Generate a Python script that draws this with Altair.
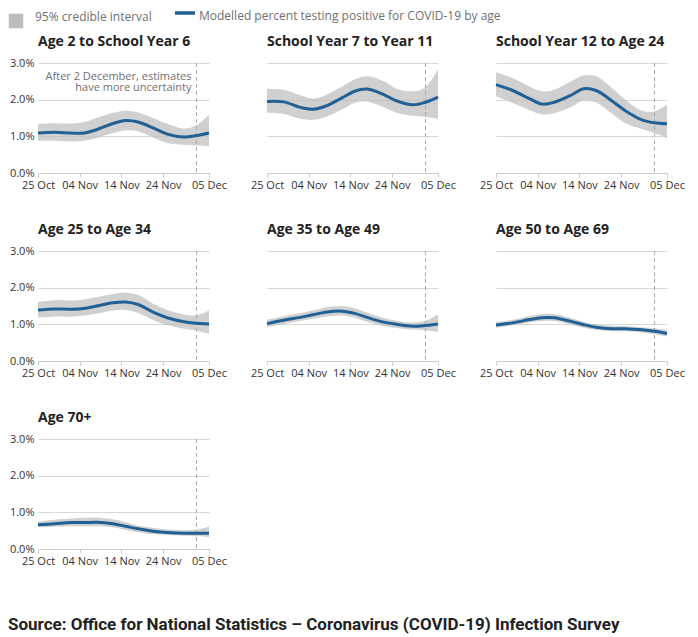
import altair as alt
import pandas as pd

# ---- data ----
dates = ["2020-10-25", "2020-10-29", "2020-11-02", "2020-11-05", "2020-11-08",
         "2020-11-12", "2020-11-15", "2020-11-18", "2020-11-22", "2020-11-25",
         "2020-11-29", "2020-12-02", "2020-12-05"]

panel_titles = ["Age 2 to School Year 6", "School Year 7 to Year 11", "School Year 12 to Age 24",
                "Age 25 to Age 34", "Age 35 to Age 49", "Age 50 to Age 69", "Age 70+"]

mid_age2_y6 = [1.09, 1.11, 1.09, 1.09, 1.18, 1.35, 1.43, 1.39, 1.21, 1.06, 0.98, 1.02, 1.09]
hi_age2_y6 = [1.34, 1.36, 1.35, 1.39, 1.50, 1.64, 1.70, 1.65, 1.48, 1.34, 1.21, 1.30, 1.59]
lo_age2_y6 = [0.88, 0.88, 0.86, 0.88, 0.95, 1.09, 1.16, 1.14, 0.95, 0.82, 0.77, 0.75, 0.73]

mid_y7_y11 = [1.95, 1.94, 1.79, 1.74, 1.82, 2.05, 2.23, 2.29, 2.14, 1.97, 1.86, 1.93, 2.07]
hi_y7_y11 = [2.30, 2.27, 2.12, 2.03, 2.12, 2.36, 2.55, 2.64, 2.50, 2.30, 2.23, 2.34, 2.82]
lo_y7_y11 = [1.64, 1.61, 1.48, 1.45, 1.53, 1.73, 1.91, 1.95, 1.79, 1.64, 1.56, 1.53, 1.48]

mid_y12_24 = [2.41, 2.25, 2.03, 1.88, 1.93, 2.12, 2.30, 2.25, 1.95, 1.70, 1.45, 1.37, 1.34]
hi_y12_24 = [2.75, 2.59, 2.36, 2.23, 2.27, 2.50, 2.66, 2.64, 2.30, 2.00, 1.70, 1.68, 1.86]
lo_y12_24 = [2.09, 1.91, 1.72, 1.60, 1.63, 1.80, 1.98, 1.92, 1.60, 1.36, 1.20, 1.09, 0.95]

mid_25_34 = [1.39, 1.42, 1.41, 1.43, 1.50, 1.59, 1.61, 1.54, 1.31, 1.18, 1.07, 1.03, 1.01]
hi_25_34 = [1.61, 1.66, 1.65, 1.68, 1.74, 1.83, 1.86, 1.80, 1.54, 1.39, 1.27, 1.25, 1.38]
lo_25_34 = [1.19, 1.21, 1.21, 1.24, 1.29, 1.38, 1.39, 1.31, 1.10, 0.98, 0.88, 0.83, 0.74]

mid_35_49 = [1.02, 1.11, 1.19, 1.26, 1.33, 1.36, 1.30, 1.19, 1.06, 1.00, 0.95, 0.97, 1.01]
hi_35_49 = [1.12, 1.22, 1.31, 1.38, 1.46, 1.50, 1.44, 1.32, 1.17, 1.10, 1.05, 1.10, 1.27]
lo_35_49 = [0.93, 1.01, 1.09, 1.15, 1.21, 1.24, 1.18, 1.07, 0.95, 0.90, 0.86, 0.84, 0.79]

mid_50_69 = [0.98, 1.04, 1.13, 1.18, 1.18, 1.08, 0.99, 0.92, 0.88, 0.88, 0.85, 0.81, 0.75]
hi_50_69 = [1.06, 1.12, 1.22, 1.28, 1.28, 1.17, 1.07, 1.00, 0.96, 0.95, 0.92, 0.89, 0.85]
lo_50_69 = [0.91, 0.97, 1.05, 1.09, 1.09, 0.99, 0.91, 0.85, 0.81, 0.81, 0.78, 0.73, 0.67]

mid_70p = [0.66, 0.69, 0.72, 0.72, 0.73, 0.69, 0.62, 0.55, 0.48, 0.45, 0.43, 0.43, 0.43]
hi_70p = [0.75, 0.80, 0.83, 0.85, 0.86, 0.81, 0.73, 0.64, 0.57, 0.53, 0.51, 0.53, 0.61]
lo_70p = [0.59, 0.61, 0.62, 0.62, 0.62, 0.59, 0.52, 0.46, 0.40, 0.38, 0.36, 0.35, 0.33]

mids = [mid_age2_y6, mid_y7_y11, mid_y12_24, mid_25_34, mid_35_49, mid_50_69, mid_70p]
his = [hi_age2_y6, hi_y7_y11, hi_y12_24, hi_25_34, hi_35_49, hi_50_69, hi_70p]
los = [lo_age2_y6, lo_y7_y11, lo_y12_24, lo_25_34, lo_35_49, lo_50_69, lo_70p]

x_tick_dates = [(2020, 10, 25), (2020, 11, 4), (2020, 11, 14), (2020, 11, 24), (2020, 12, 5)]
y_ticks = [0, 1, 2, 3]
cutoff_date = ["2020-12-02"]
annotation_lines = ["After 2 December, estimates", "have more uncertainty"]
band_label = "95% credible interval"
line_label = "Modelled percent testing positive for COVID-19 by age"
source_text = "Source: Office for National Statistics \u2013 Coronavirus (COVID-19) Infection Survey"

BLUE = "#206095"
FONT = "Open Sans"
INTERP = "catmull-rom"

x_scale = alt.Scale(type="utc", domain=[alt.DateTime(year=2020, month=10, date=25, utc=True),
                                         alt.DateTime(year=2020, month=12, date=5, utc=True)])
x_values = [alt.DateTime(year=y, month=m, date=d, utc=True) for (y, m, d) in x_tick_dates]
y_scale = alt.Scale(domain=[0, 3], nice=False, zero=True)

fill_legend = alt.Legend(title=None, orient="none", legendX=-30, legendY=-50, symbolType="square",
                         symbolSize=210, symbolOpacity=1, labelFontSize=12, labelColor="#707070",
                         labelFont=FONT, labelOffset=11, labelBaseline="alphabetic", padding=0)
stroke_legend = alt.Legend(title=None, orient="none", legendX=140, legendY=-54,
                           symbolType="M-2,-0.6H2", symbolSize=100, symbolStrokeWidth=3.5,
                           labelFontSize=12, labelColor="#707070", labelFont=FONT, labelOffset=7,
                           labelBaseline="middle", labelLimit=500, padding=0)


def make_x_axis():
    return alt.Axis(values=x_values, format="%d %b", title=None, grid=False,
                    domainColor="#cccccc", tickColor="#cccccc", tickSize=4,
                    labelFontSize=11, labelColor="#333333", labelFont=FONT,
                    labelPadding=2, labelFlush=False, labelOverlap=False)


def make_y_axis(first_col):
    expr = "format(datum.value, '.1f') + '%'" if first_col else "''"
    return alt.Axis(values=y_ticks, tickCount=4, labelExpr=expr,
                    title=None, domain=False, ticks=False, grid=True, gridColor="#d9d9d9",
                    labelFontSize=11, labelColor="#333333", labelFont=FONT, labelPadding=4,
                    labelOverlap=False)


def panel(i):
    df = pd.DataFrame({"date": dates, "mid": mids[i], "lo": los[i], "hi": his[i],
                       "band": band_label, "model": line_label})
    first_col = (i % 3 == 0)
    xenc = alt.X("date:T", scale=x_scale, axis=make_x_axis())
    base = alt.Chart(df)
    area = base.mark_area(interpolate=INTERP, opacity=0.7).encode(
        x=xenc,
        y=alt.Y("lo:Q", scale=y_scale, axis=make_y_axis(first_col)),
        y2="hi:Q",
        fill=alt.Fill("band:N", scale=alt.Scale(domain=[band_label], range=["#bcbcbc"]),
                      legend=fill_legend),
    )
    rule = alt.Chart(pd.DataFrame({"date": cutoff_date})).mark_rule(
        color="#aaaaaa", strokeDash=[4, 3], strokeWidth=1).encode(
        x=alt.X("date:T", scale=x_scale, axis=make_x_axis()))
    line = base.mark_line(interpolate=INTERP, strokeWidth=3).encode(
        x=xenc,
        y=alt.Y("mid:Q", scale=y_scale, axis=make_y_axis(first_col)),
        stroke=alt.Stroke("model:N", scale=alt.Scale(domain=[line_label], range=[BLUE]),
                          legend=stroke_legend),
    )
    layers = [area, rule, line]
    if i == 0:
        ann = alt.Chart(pd.DataFrame({"date": cutoff_date, "v": [2.54],
                                      "t": ["\n".join(annotation_lines)]})).mark_text(
            align="right", baseline="alphabetic", dx=-5, fontSize=11, color="#707070",
            font=FONT, lineBreak="\n", lineHeight=11.5).encode(
            x=xenc, y=alt.Y("v:Q", scale=y_scale, axis=make_y_axis(first_col)), text="t:N")
        layers.append(ann)
    return alt.layer(*layers).properties(
        width=171, height=110,
        title=alt.TitleParams(panel_titles[i], anchor="start", frame="group", fontSize=14,
                              fontWeight="bold", color="#222222", font=FONT,
                              baseline="alphabetic", offset=-2.5),
    )


chart = alt.concat(*[panel(i) for i in range(7)], columns=3, spacing={"row": 78, "column": 58},
                   bounds="flush").properties(
    padding={"left": 0, "top": 1, "right": 5, "bottom": 5},
    title=alt.TitleParams(source_text, orient="bottom", anchor="start", frame="bounds",
                          fontSize=17, fontWeight="bold", color="#222222",
                          font="Liberation Sans Narrow, Roboto, Open Sans",
                          baseline="alphabetic", offset=64),
).configure(font=FONT).configure_view(stroke=None)

chart.save("out.html", embed_options={"renderer": "svg", "actions": False})
